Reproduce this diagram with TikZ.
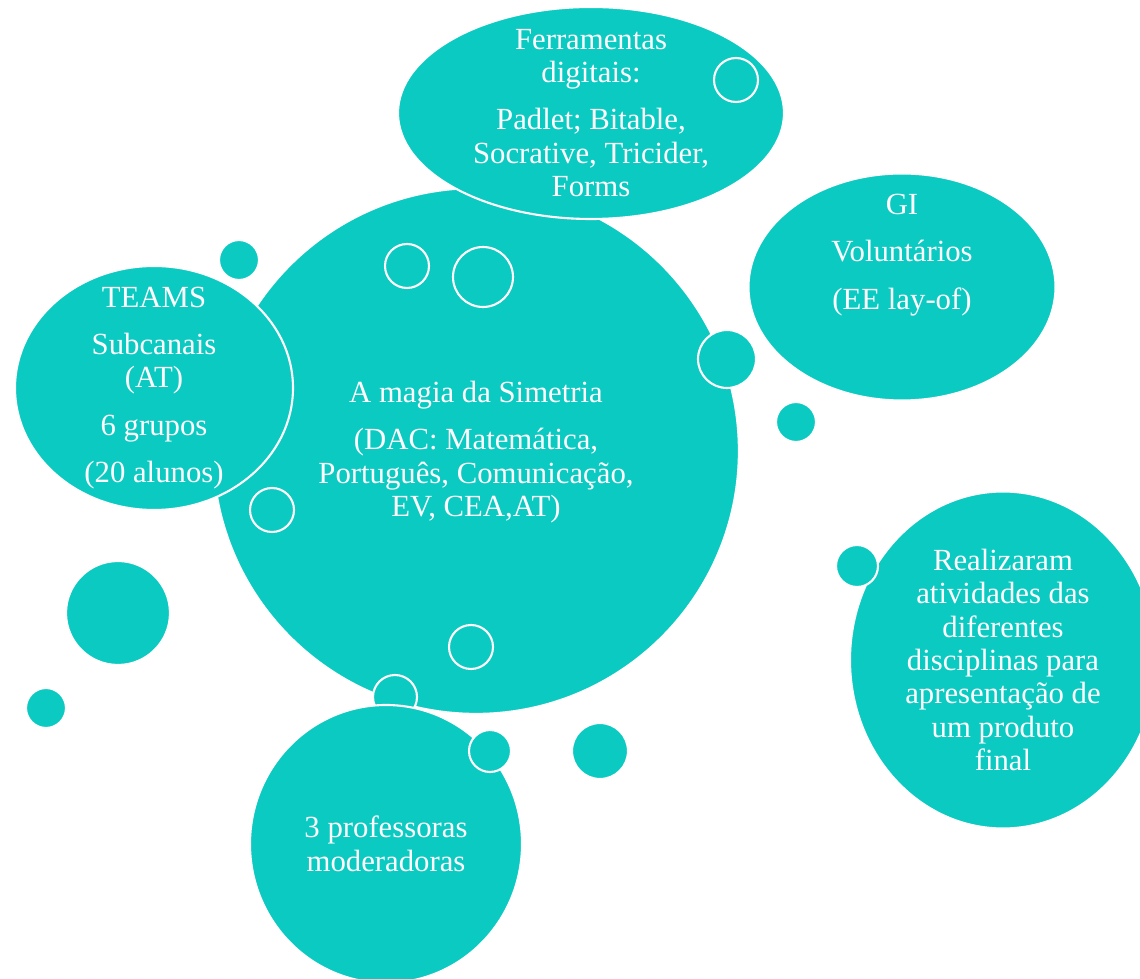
\documentclass[tikz,border=0pt]{standalone}
\usepackage{fontspec}
\setmainfont{Liberation Serif}
\usetikzlibrary{shapes.geometric}

\definecolor{bubblecol}{RGB}{11,202,194}

\tikzset{
  blob/.style={fill=bubblecol, draw=white, line width=1.2pt, inner sep=0pt},
  disc/.style={blob, circle, minimum size=#1*0.04cm},
  oval/.style n args={2}{blob, ellipse, minimum width=#1*0.02cm, minimum height=#2*0.02cm},
  txt/.style={text=white, align=center, inner sep=0pt, font={\fontsize{17.5}{19}\selectfont}}
}

\begin{document}
\begin{tikzpicture}[x=0.02cm, y=-0.02cm]

\clip (0,0) rectangle (1140,979);

\node[disc=263] (simetria) at (476,451) {};
\node[oval={278}{244}] (teams) at (154,388) {};

\node[disc=22] (b1) at (407,266) {};
\node[disc=30] (b2) at (483,277) {};
\node[disc=22] (b3) at (272,510) {};
\node[disc=22] (b4) at (471,647) {};
\node[disc=29] (b5) at (727,359) {};

\node[oval={386}{212}] (tools) at (591,113) {};
\node[disc=22] (b6) at (736,80) {};

\node[oval={307}{227}] (volunteers) at (902,287) {};
\node[disc=20] (b7) at (796,422) {};

\node[oval={306}{337}] (results) at (1003,660) {};
\node[disc=21] (b8) at (857,566) {};

\node[disc=22] (b9) at (395,697) {};
\node[oval={272}{278}] (teachers) at (386,844) {};
\node[disc=21] (b10) at (490,751) {};
\node[disc=28] (b11) at (600,751) {};

\node[disc=20] (b12) at (239,260) {};
\node[disc=52] (b13) at (118,613) {};
\node[disc=20] (b14) at (46,708) {};

% texts
\node[txt] (simetria-text) at (476,452) {A magia da Simetria\\[8pt](DAC: Matemática,\\Português, Comunicação,\\EV, CEA,AT)};
\node[txt] (teams-text) at (teams) {TEAMS\\[8pt]Subcanais\\(AT)\\[8pt]6 grupos\\[8pt](20 alunos)};
\node[txt] (tools-text) at (tools) {Ferramentas\\digitais:\\[8pt]Padlet; Bitable,\\Socrative, Tricider,\\Forms};
\node[txt] (volunteers-text) at (902,255) {GI\\[8pt]Voluntários\\[8pt](EE lay-of)};
\node[txt] (results-text) at (results) {Realizaram\\atividades das\\diferentes\\disciplinas para\\apresentação de\\um produto\\final};
\node[txt] (teachers-text) at (teachers) {3 professoras\\moderadoras};

\end{tikzpicture}
\end{document}
